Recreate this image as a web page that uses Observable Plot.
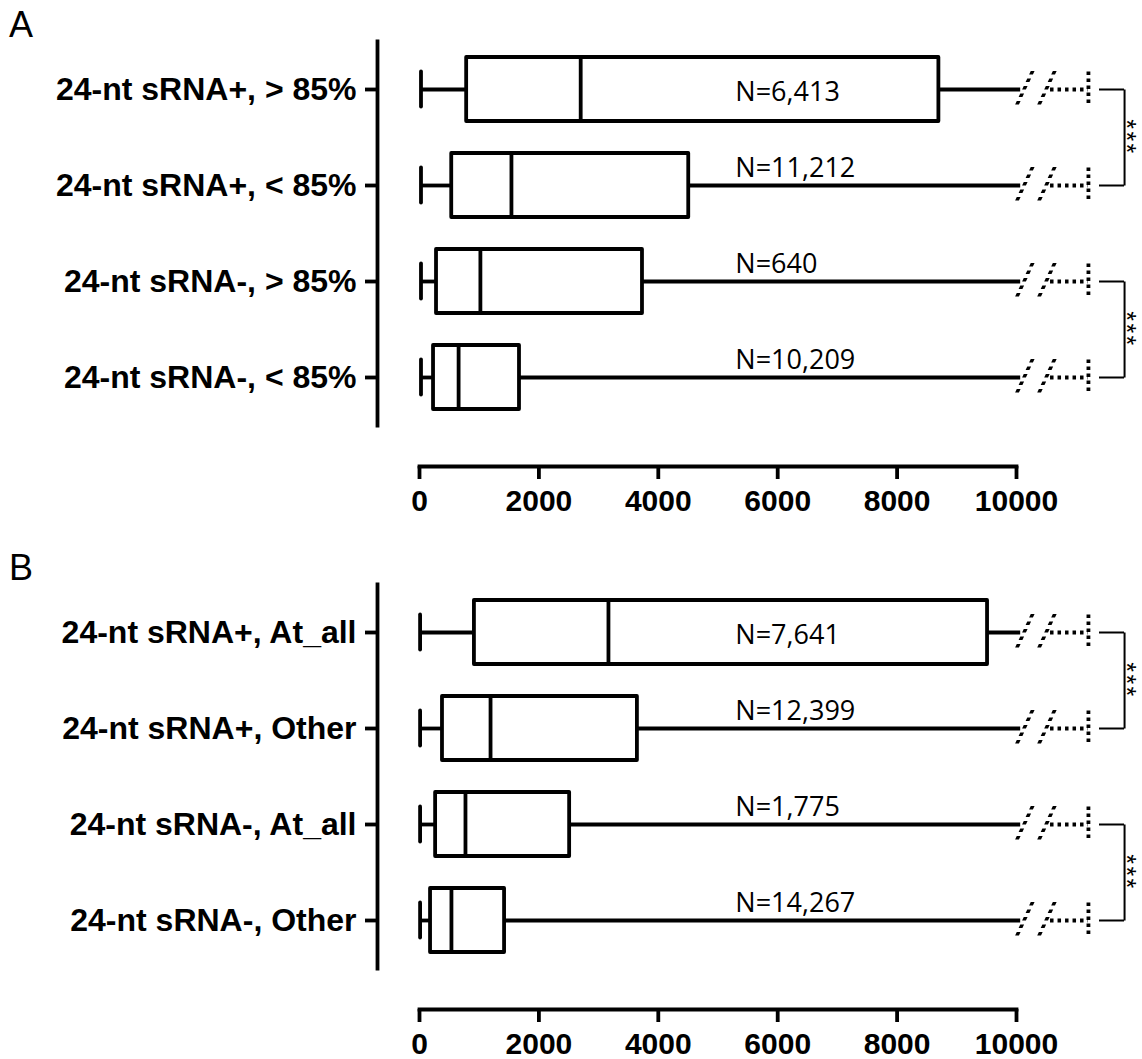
<!DOCTYPE html>
<html>
<head>
<meta charset="utf-8">
<script src="https://cdn.jsdelivr.net/npm/d3@7"></script>
<script src="https://cdn.jsdelivr.net/npm/@observablehq/plot@0.6"></script>
<style>
  body { margin: 0; background: #fff; }
  #wrap { position: relative; width: 1142px; height: 1059px; overflow: hidden; }
  .panel { position: absolute; left: 0; width: 1142px; }
  .letter { position: absolute; left: 9px; font-family: "Liberation Sans", Arial, sans-serif; font-size: 36px; line-height: 1; color: #000; }
</style>
</head>
<body>
<div id="wrap"></div>
<script>
// ---------- data ----------
const categoriesA = ["24-nt sRNA+, > 85%", "24-nt sRNA+, < 85%", "24-nt sRNA-, > 85%", "24-nt sRNA-, < 85%"];
const minA    = [25, 25, 25, 25];
const q1A     = [790, 540, 285, 235];
const medianA = [2700, 1540, 1020, 655];
const q3A     = [8700, 4510, 3735, 1675];
const countA  = [6413, 11212, 640, 10209];

const categoriesB = ["24-nt sRNA+, At_all", "24-nt sRNA+, Other", "24-nt sRNA-, At_all", "24-nt sRNA-, Other"];
const minB    = [10, 10, 10, 10];
const q1B     = [920, 385, 270, 185];
const medianB = [3165, 1190, 770, 535];
const q3B     = [9515, 3650, 2515, 1425];
const countB  = [7641, 12399, 1775, 14267];

const xTicks = [0, 2000, 4000, 6000, 8000, 10000];
const comparisons = [[0, 1], [2, 3]];
const significance = "***";

// ---------- broken-axis layout (x units beyond the last tick) ----------
const breakSolidEnd = 10070;
const slashPositions = [10130, 10500];
const dottedStart = 10570;
const maxShown = 11205;
const bracketFrom = 11390, bracketTo = 11810, starsAt = 11840;
const nLabelAt = 5290;

const fmt = d3.format(",");
const S = 3.8;

function panel(cats, mins, q1, med, q3, counts, height, marginBottom) {
  const rows = cats.map((cat, i) => ({cat, min: mins[i], q1: q1[i], med: med[i], q3: q3[i], n: counts[i]}));
  const inside = rows.filter(d => d.q3 > nLabelAt);
  const outside = rows.filter(d => d.q3 <= nLabelAt);
  const pairs = comparisons.map(([a, b]) => ({a: cats[a], b: cats[b]}));
  const arms = comparisons.flat().map(i => cats[i]);
  const nText = d => "N=" + fmt(d.n);
  const svg = Plot.plot({
    width: 1142, height,
    marginLeft: 419, marginRight: 126, marginTop: 41, marginBottom,
    style: {fontFamily: '"Liberation Sans", Arial, sans-serif', color: "#000", background: "#fff", overflow: "visible"},
    x: {domain: [0, 10000]},
    y: {domain: cats, paddingInner: 1/3, paddingOuter: 1/6},
    marks: [
      Plot.frame({anchor: "left", insetLeft: -42, strokeWidth: S, stroke: "#000"}),
      Plot.frame({anchor: "bottom", insetBottom: -41, strokeWidth: S, stroke: "#000"}),
      Plot.axisY({anchor: "left", dx: -42, tickSize: 12, tickPadding: 9, fontSize: 32, fontWeight: "bold", strokeWidth: S, label: null}),
      Plot.axisX({anchor: "bottom", ticks: xTicks, tickFormat: "d", dy: 41, tickSize: 13, tickPadding: 10, fontSize: 30, fontWeight: "bold", strokeWidth: S, label: null}),
      // whiskers
      Plot.ruleY(rows, {y: "cat", x1: "min", x2: "q1", strokeWidth: S}),
      Plot.ruleY(rows, {y: "cat", x1: "q3", x2: breakSolidEnd, strokeWidth: S}),
      // boxes
      Plot.barX(rows, {y: "cat", x1: "q1", x2: "q3", fill: "white", stroke: "black", strokeWidth: S, strokeLinejoin: "round"}),
      Plot.tickX(rows, {x: "med", y: "cat", strokeWidth: S}),
      Plot.tickX(rows, {x: "min", y: "cat", insetTop: 14.5, insetBottom: 14.5, strokeWidth: S, strokeLinecap: "round"}),
      // axis break marks
      ...slashPositions.map(p => Plot.tickX(rows, {x: p, y: "cat", insetTop: 14, insetBottom: 14, strokeWidth: S, strokeDasharray: "3.5,4", ariaDescription: "break"})),
      Plot.ruleY(rows, {y: "cat", x1: dottedStart, x2: maxShown, strokeWidth: S, strokeDasharray: "3.5,4"}),
      Plot.tickX(rows, {x: maxShown, y: "cat", insetTop: 14.5, insetBottom: 14.5, strokeWidth: S, strokeDasharray: "3.5,3.5"}),
      // significance brackets
      Plot.ruleY(arms, {y: d => d, x1: bracketFrom, x2: bracketTo, strokeWidth: 2}),
      Plot.link(pairs, {x1: bracketTo, x2: bracketTo, y1: "a", y2: "b", strokeWidth: 2}),
      Plot.text(pairs, {x: starsAt, y: "a", dy: 48, text: () => significance, rotate: 90, fontSize: 25, ariaDescription: "stars"}),
      // N labels
      Plot.text(inside, {x: nLabelAt, y: "cat", text: nText, textAnchor: "start", dy: 3, fontSize: 27, fontFamily: '"Open Sans", sans-serif'}),
      Plot.text(outside, {x: nLabelAt, y: "cat", text: nText, textAnchor: "start", dy: -17, fontSize: 27, fontFamily: '"Open Sans", sans-serif'})
    ]
  });
  svg.querySelectorAll('g[aria-description="break"] line').forEach(l => {
    l.style.transformBox = "fill-box";
    l.style.transformOrigin = "center";
    l.style.transform = "skewX(-25deg)";
  });
  svg.querySelectorAll('g[aria-description="stars"]').forEach(g => { g.style.letterSpacing = "2.5px"; });
  return svg;
}

const wrap = document.getElementById("wrap");
function addPanel(letter, top, svg) {
  const div = document.createElement("div");
  div.className = "panel";
  div.style.top = top + "px";
  div.appendChild(svg);
  const lab = document.createElement("div");
  lab.className = "letter";
  lab.style.top = "7px";
  lab.textContent = letter;
  div.appendChild(lab);
  wrap.appendChild(div);
}
addPanel("A", 0, panel(categoriesA, minA, q1A, medianA, q3A, countA, 543, 118));
addPanel("B", 543, panel(categoriesB, minB, q1B, medianB, q3B, countB, 516, 91));
</script>
</body>
</html>
